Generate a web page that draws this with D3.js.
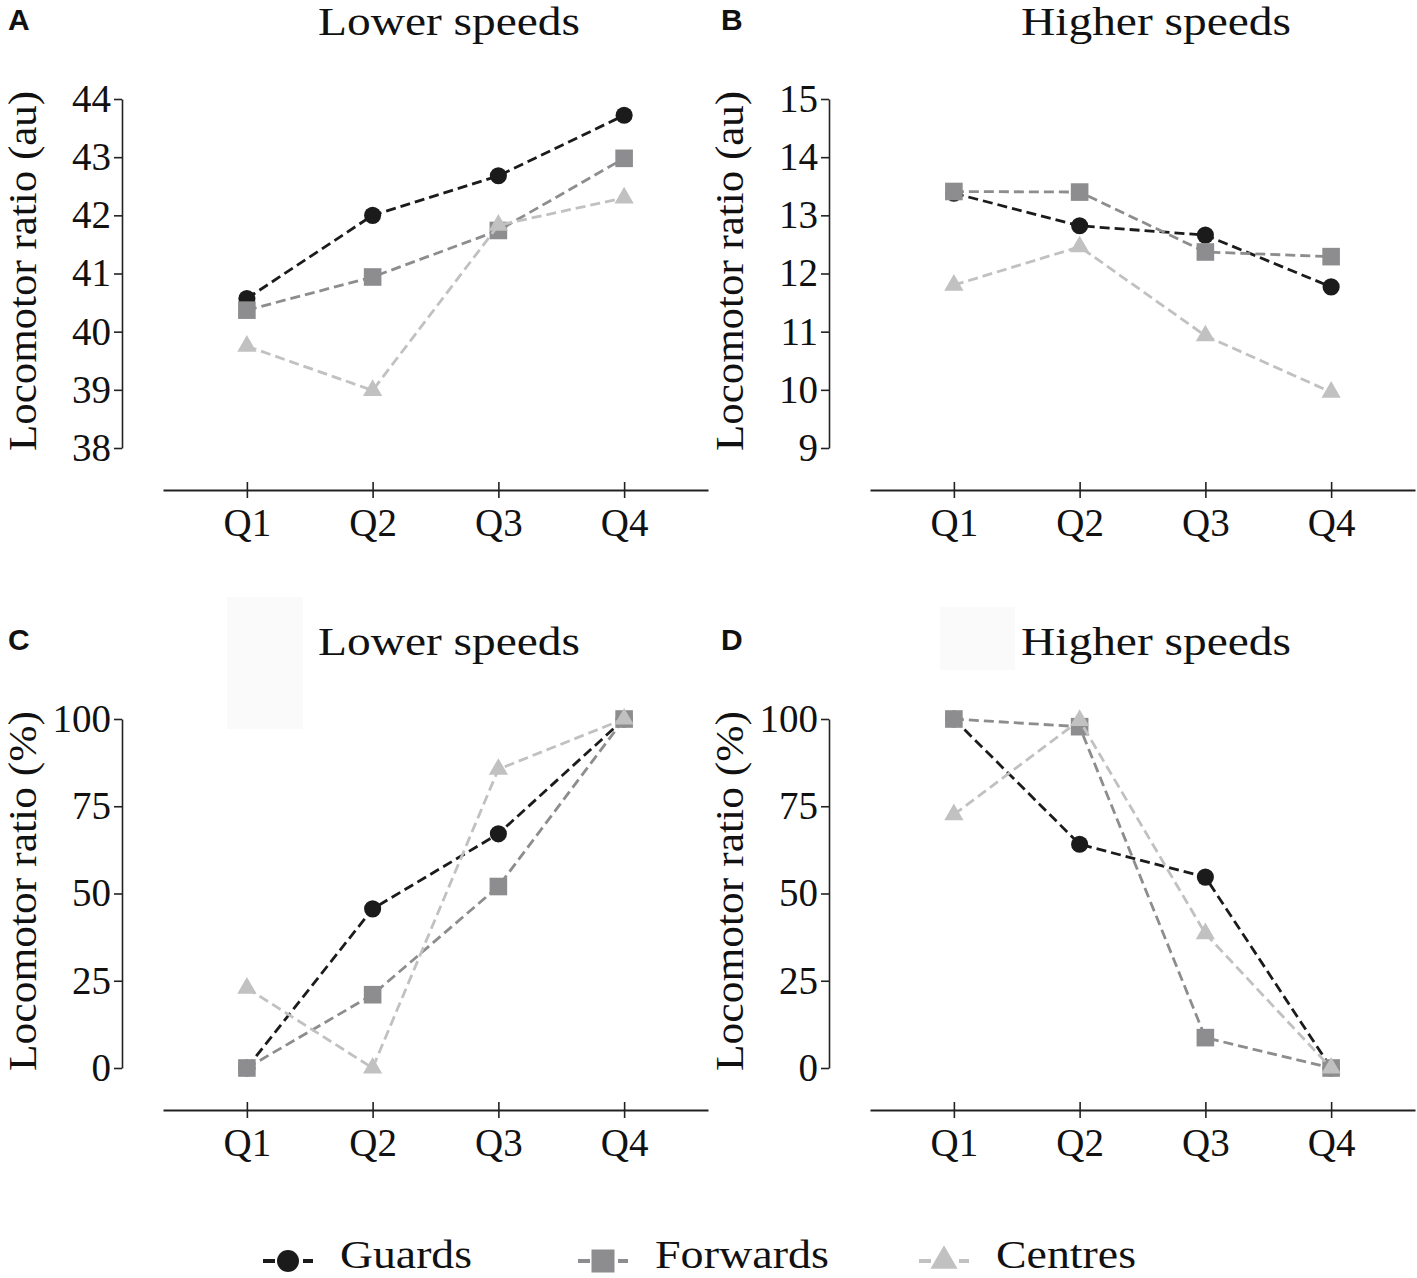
<!DOCTYPE html>
<html>
<head>
<meta charset="utf-8">
<script src="https://cdn.jsdelivr.net/npm/d3@7"></script>
<style>
	body { margin: 0; background: #fff; }
	svg { display: block; }
</style>
</head>
<body>
<div id="chart"></div>
<script>
// Data
const quarters = ["Q1", "Q2", "Q3", "Q4"];
const seriesNames = ["Guards", "Forwards", "Centres"];

// A: lower speeds (au)
const guardsLowAu = [40.57, 42.0, 42.68, 43.72];
const forwardsLowAu = [40.37, 40.94, 41.74, 42.98];
const centresLowAu = [39.75, 38.99, 41.83, 42.3];

// B: higher speeds (au)
const guardsHighAu = [13.38, 12.82, 12.66, 11.77];
const forwardsHighAu = [13.41, 13.4, 12.37, 12.29];
const centresHighAu = [11.8, 12.46, 10.93, 9.96];

// C: lower speeds (%)
const guardsLowPct = [0, 45.6, 67.1, 100];
const forwardsLowPct = [0, 21, 52, 100];
const centresLowPct = [22.9, 0, 85.6, 100];

// D: higher speeds (%)
const guardsHighPct = [100, 64.1, 54.7, 0];
const forwardsHighPct = [100, 97.8, 8.7, 0];
const centresHighPct = [72.6, 99.6, 38.5, 0];

// Tick labels
const lowAuTicks = [38, 39, 40, 41, 42, 43, 44];
const highAuTicks = [9, 10, 11, 12, 13, 14, 15];
const pctTicks = [0, 25, 50, 75, 100];

const panels = [
	{ letter: "A", title: "Lower speeds", yLabel: "Locomotor ratio (au)", ticks: lowAuTicks, values: [guardsLowAu, forwardsLowAu, centresLowAu], col: 0, row: 0 },
	{ letter: "B", title: "Higher speeds", yLabel: "Locomotor ratio (au)", ticks: highAuTicks, values: [guardsHighAu, forwardsHighAu, centresHighAu], col: 1, row: 0 },
	{ letter: "C", title: "Lower speeds", yLabel: "Locomotor ratio (%)", ticks: pctTicks, values: [guardsLowPct, forwardsLowPct, centresLowPct], col: 0, row: 1 },
	{ letter: "D", title: "Higher speeds", yLabel: "Locomotor ratio (%)", ticks: pctTicks, values: [guardsHighPct, forwardsHighPct, centresHighPct], col: 1, row: 1 },
];

// Layout
const width = 1417;
const height = 1278;
const colStep = 707;
const rowStep = 620;
const letterX = [8, 721];
const serif = "'Liberation Serif', 'Times New Roman', serif";
const sans = "'Liberation Sans', Arial, sans-serif";
const ink = "#111";

const colors = d3.scaleOrdinal().domain(seriesNames).range(["#1b1b1b", "#8d8d8f", "#c1c1c1"]);
const shapes = d3.scaleOrdinal().domain(seriesNames).range([d3.symbolCircle, d3.symbolSquare, d3.symbolTriangle]);
const markerSize = d3.scaleOrdinal().domain(seriesNames).range([230, 310, 160]);

const svg = d3
	.select("#chart")
	.append("svg")
	.attr("width", width)
	.attr("height", height)
	.attr("viewBox", `0 0 ${width} ${height}`);

// faint scan patches behind the lower titles
[[227, 597, 76, 132], [940, 607, 75, 63]].forEach(([rx, ry, rw, rh]) => {
	svg.append("rect")
		.attr("x", rx).attr("y", ry).attr("width", rw).attr("height", rh)
		.attr("fill", "#fafafa");
});

panels.forEach((p) => {
	const g = svg
		.append("g")
		.attr("transform", `translate(${p.col * colStep},${p.row * rowStep})`);

	const x = d3.scalePoint().domain(quarters).range([163, 708]).padding(0.667);
	const y = d3.scaleLinear().domain(d3.extent(p.ticks)).range([448, 99]);

	// Panel letter
	svg.append("text")
		.attr("x", letterX[p.col])
		.attr("y", 30 + p.row * rowStep)
		.attr("font-family", sans)
		.attr("font-weight", "bold")
		.attr("font-size", 30)
		.attr("fill", ink)
		.text(p.letter);

	// Title (glyphs in the source are wide, so stretch to its measured width)
	g.append("text")
		.attr("x", 449)
		.attr("y", 35)
		.attr("text-anchor", "middle")
		.attr("font-family", serif)
		.attr("font-size", 40)
		.attr("textLength", p.title.length > 12 ? 270 : 262)
		.attr("lengthAdjust", "spacingAndGlyphs")
		.attr("fill", ink)
		.text(p.title);

	// Y axis
	g.append("g")
		.attr("transform", "translate(122,0)")
		.call(
			d3.axisLeft(y)
				.tickValues(p.ticks)
				.tickFormat(d3.format("d"))
				.tickSize(8)
				.tickSizeOuter(0)
				.tickPadding(3)
		)
		.attr("font-family", serif)
		.attr("font-size", 39)
		.call((a) => {
			a.select(".domain").attr("stroke", "#222").attr("stroke-width", 1.6);
			a.selectAll(".tick line").attr("stroke", "#222").attr("stroke-width", 1.6);
			a.selectAll(".tick text").attr("fill", ink);
		});

	g.append("text")
		.attr("transform", "translate(36,271) rotate(-90)")
		.attr("text-anchor", "middle")
		.attr("font-family", serif)
		.attr("font-size", 39)
		.attr("textLength", 360)
		.attr("lengthAdjust", "spacingAndGlyphs")
		.attr("fill", ink)
		.text(p.yLabel);

	// X axis, detached below the y range
	g.append("g")
		.attr("transform", "translate(0,490)")
		.call(d3.axisBottom(x).tickSize(8).tickSizeOuter(0).tickPadding(10))
		.attr("font-family", serif)
		.attr("font-size", 39)
		.call((a) => {
			a.select(".domain").attr("stroke", "#222").attr("stroke-width", 2);
			a.selectAll(".tick line").attr("y1", -8).attr("y2", 8).attr("stroke", "#222").attr("stroke-width", 1.6);
			a.selectAll(".tick text").attr("fill", ink);
		});

	const line = d3
		.line()
		.x((d, i) => x(quarters[i]))
		.y((d) => y(d));

	// Series: line then markers, Guards first so Centres sit on top
	seriesNames.forEach((name, si) => {
		const vals = p.values[si];
		const s = g.append("g").attr("class", "series").attr("data-key", name);

		s.append("path")
			.attr("d", line(vals))
			.attr("fill", "none")
			.attr("stroke", colors(name))
			.attr("stroke-width", 2.8)
			.attr("stroke-dasharray", "10,5");

		s.selectAll("path.marker")
			.data(vals)
			.enter()
			.append("path")
			.attr("class", "marker")
			.attr("transform", (d, i) => `translate(${x(quarters[i])},${y(d)})`)
			.attr("d", d3.symbol().type(shapes(name)).size(markerSize(name)))
			.attr("fill", colors(name));
	});
});

// Legend
const legendCenters = [288, 603, 944];
const legendWidths = [132, 174, 140];
const legendSize = d3.scaleOrdinal().domain(seriesNames).range([380, 530, 320]);

seriesNames.forEach((name, i) => {
	const cx = legendCenters[i];
	const item = svg.append("g").attr("class", "legend-item").attr("transform", `translate(${cx},1261)`);

	item.append("line")
		.attr("x1", -25)
		.attr("x2", 25)
		.attr("stroke", colors(name))
		.attr("stroke-width", 4)
		.attr("stroke-dasharray", "12,8");

	item.append("path")
		.attr("d", d3.symbol().type(shapes(name)).size(legendSize(name)))
		.attr("fill", colors(name));

	item.append("text")
		.attr("x", 52)
		.attr("y", 7)
		.attr("font-family", serif)
		.attr("font-size", 40)
		.attr("textLength", legendWidths[i])
		.attr("lengthAdjust", "spacingAndGlyphs")
		.attr("fill", ink)
		.text(name);
});
</script>
</body>
</html>
